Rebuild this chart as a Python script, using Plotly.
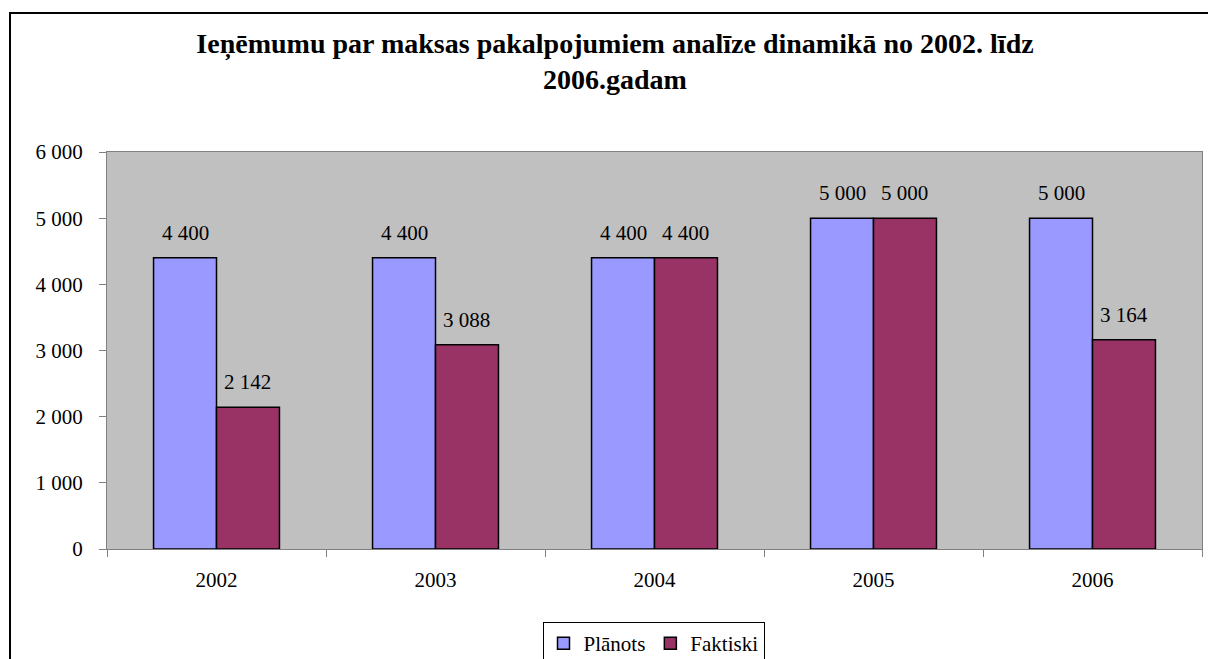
import plotly.graph_objects as go

years = ["2002", "2003", "2004", "2005", "2006"]
planots = [4400, 4400, 4400, 5000, 5000]
faktiski = [2142, 3088, 4400, 5000, 3164]
series_names = ["Plānots", "Faktiski"]
series_colors = ["#9999FF", "#993366"]
title_text = "Ieņēmumu par maksas pakalpojumiem analīze dinamikā no 2002. līdz<br>2006.gadam"

W, H = 1208, 659
ML, MR, MT, MB = 107, 6, 152, 110
PW = W - ML - MR
PH = H - MT - MB
BARGAP = 0.425
FONT = "Liberation Serif"
FS = 21

fig = go.Figure()
for name, vals, col in zip(series_names, [planots, faktiski], series_colors):
    fig.add_trace(go.Bar(
        x=years, y=vals, name=name,
        marker=dict(color=col, line=dict(color="black", width=1.5)),
    ))

# data labels above bars (x given as category index)
bar_px = PW / len(years) * (1 - BARGAP) / 2
for i, vals in enumerate([planots, faktiski]):
    shift = (i - 0.5) * bar_px
    for k, v in enumerate(vals):
        fig.add_annotation(
            x=k, y=v, xref="x", yref="y",
            text=f"{v:,}".replace(",", " "),
            showarrow=False, xshift=shift, yshift=11, yanchor="bottom",
            font=dict(family=FONT, size=FS, color="black"),
        )

# outer chart border
fig.add_shape(
    type="rect", xref="paper", yref="paper",
    x0=(10 - ML) / PW, x1=(W + 5 - ML) / PW,
    y0=-(H + 5 - MT - PH) / PH, y1=1 + (MT - 13) / PH,
    line=dict(color="black", width=2), fillcolor="rgba(0,0,0,0)", layer="above",
)

fig.update_layout(
    width=W, height=H,
    margin=dict(l=ML, r=MR, t=MT, b=MB, autoexpand=False),
    paper_bgcolor="white", plot_bgcolor="#C0C0C0",
    barmode="group", bargap=BARGAP, bargroupgap=0,
    separators=". ",
    font=dict(family=FONT, size=FS, color="black"),
    title=dict(text=title_text, x=615 / W, xref="container", xanchor="center",
               y=1 - 53 / H, yref="container", yanchor="top",
               font=dict(family=FONT, size=28, color="black", weight="bold")),
    showlegend=True,
    legend=dict(orientation="h", x=(653.5 - ML) / PW, xanchor="center",
                y=-(622 - MT - PH) / PH, yanchor="top",
                bordercolor="black", borderwidth=1, bgcolor="white",
                font=dict(family=FONT, size=FS, color="black")),
)
fig.update_xaxes(
    type="category", range=[-0.5, len(years) - 0.5],
    showline=True, mirror=True, linecolor="#808080", linewidth=1,
    ticks="outside", tickson="boundaries", ticklen=7, tickcolor="#808080",
    showgrid=False, ticklabelstandoff=12, tickangle=0,
    tickfont=dict(family=FONT, size=FS, color="black"),
)
fig.update_yaxes(
    range=[0, 6000], dtick=1000, tickformat=",d",
    showline=True, mirror=True, linecolor="#808080", linewidth=1,
    ticks="outside", ticklen=7, tickcolor="#808080", showgrid=False, zeroline=False,
    ticklabelstandoff=12,
    tickfont=dict(family=FONT, size=FS, color="black"),
)

fig.write_html("out.html", config={"displayModeBar": False},
               post_script="document.body.style.margin='0';")
